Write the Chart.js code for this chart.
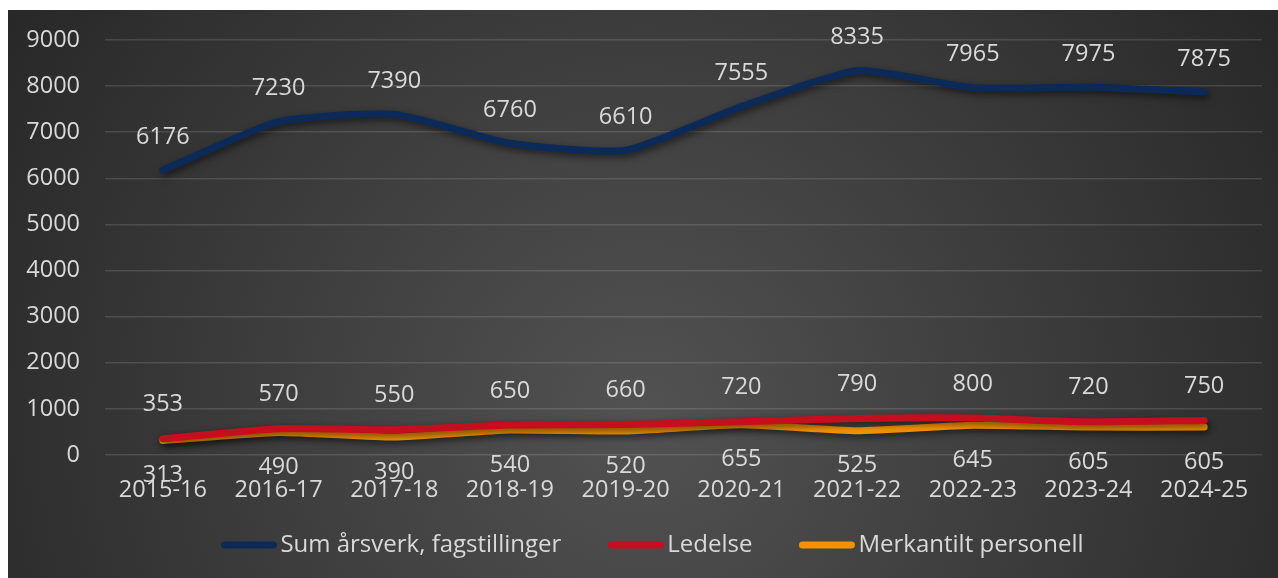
<!DOCTYPE html>
<html>
<head>
<meta charset="utf-8">
<script src="https://cdn.jsdelivr.net/npm/chart.js@4/dist/chart.umd.min.js"></script>
<style>
  html, body { margin: 0; padding: 0; background: #ffffff; width: 1278px; height: 578px; overflow: hidden; }
  #wrap { position: absolute; left: 8px; top: 10px; width: 1270px; height: 568px; }
</style>
</head>
<body>
<div id="wrap"><canvas id="c"></canvas></div>
<script>
const categories = ["2015-16","2016-17","2017-18","2018-19","2019-20","2020-21","2021-22","2022-23","2023-24","2024-25"];
const sumFag = [6176, 7230, 7390, 6760, 6610, 7555, 8335, 7965, 7975, 7875];
const ledelse = [353, 570, 550, 650, 660, 720, 790, 800, 720, 750];
const merkantilt = [313, 490, 390, 540, 520, 655, 525, 645, 605, 605];
const seriesNames = ["Sum årsverk, fagstillinger", "Ledelse", "Merkantilt personell"];
const yMin = 0, yMax = 9000, yStep = 1000;

const FONT = "'Open Sans', 'Noto Sans', sans-serif";
const TXT = "#d9d9d9";
const FS = 23.5;
const LFS = 24;

const bgPlugin = {
  id: 'bg',
  beforeDraw(chart) {
    const { ctx, width, height } = chart;
    ctx.save();
    const g = ctx.createRadialGradient(width * 0.5, height * 0.72, 0, width * 0.5, height * 0.72, width * 0.62);
    g.addColorStop(0, '#525252');
    g.addColorStop(1, '#262626');
    ctx.fillStyle = g;
    ctx.fillRect(0, 0, width, height);
    ctx.restore();
  }
};

const shadowPlugin = {
  id: 'shadow',
  beforeDatasetDraw(chart) {
    const ctx = chart.ctx;
    ctx.save();
    ctx.shadowColor = 'rgba(0,0,0,0.55)';
    ctx.shadowBlur = 7;
    ctx.shadowOffsetX = 2;
    ctx.shadowOffsetY = 3;
  },
  afterDatasetDraw(chart) {
    chart.ctx.restore();
  }
};

const labelOffsets = [-33, -34, 35];
const labelPlugin = {
  id: 'dlabels',
  afterDatasetsDraw(chart) {
    const ctx = chart.ctx;
    ctx.save();
    ctx.font = FS + "px " + FONT;
    ctx.fillStyle = TXT;
    ctx.textAlign = 'center';
    ctx.textBaseline = 'middle';
    chart.data.datasets.forEach((ds, i) => {
      const meta = chart.getDatasetMeta(i);
      meta.data.forEach((pt, j) => {
        ctx.fillText(String(ds.data[j]), pt.x, pt.y + labelOffsets[i]);
      });
    });
    ctx.restore();
  }
};

const legendPlugin = {
  id: 'customLegend',
  afterDraw(chart) {
    const ctx = chart.ctx;
    ctx.save();
    ctx.font = LFS + "px " + FONT;
    const sw = 57, gap = 3, spacing = 46;
    const ds = chart.data.datasets;
    const widths = ds.map(d => ctx.measureText(d.label).width);
    let total = 0;
    widths.forEach((w, i) => { total += sw + gap + w + (i < widths.length - 1 ? spacing : 0); });
    let x = 644 - total / 2;
    const y = 535;
    ds.forEach((d, i) => {
      ctx.strokeStyle = d.borderColor;
      ctx.lineWidth = 7;
      ctx.lineCap = 'round';
      ctx.beginPath();
      ctx.moveTo(x + 4, y);
      ctx.lineTo(x + sw - 4, y);
      ctx.stroke();
      ctx.fillStyle = TXT;
      ctx.textAlign = 'left';
      ctx.textBaseline = 'middle';
      ctx.fillText(d.label, x + sw + gap, y);
      x += sw + gap + widths[i] + spacing;
    });
    ctx.restore();
  }
};

const mk = (label, data, color) => ({
  label, data,
  borderColor: color,
  backgroundColor: color,
  borderWidth: 7,
  borderCapStyle: 'round',
  borderJoinStyle: 'round',
  pointRadius: 0,
  pointHoverRadius: 0,
  tension: 0.18,
  fill: false
});

new Chart(document.getElementById('c'), {
  type: 'line',
  data: {
    labels: categories,
    datasets: [
      mk(seriesNames[0], sumFag, '#0c2a58'),
      mk(seriesNames[1], ledelse, '#c50f1f'),
      mk(seriesNames[2], merkantilt, '#f39200')
    ]
  },
  plugins: [bgPlugin, shadowPlugin, labelPlugin, legendPlugin],
  options: {
    responsive: true,
    maintainAspectRatio: false,
    animation: false,
    events: [],
    layout: { padding: { left: 0, right: 16, top: 30, bottom: 0 }, autoPadding: false },
    plugins: { legend: { display: false }, tooltip: { enabled: false } },
    scales: {
      x: {
        offset: true,
        grid: { display: false, drawTicks: false },
        border: { display: false },
        ticks: { color: TXT, font: { family: FONT, size: FS }, padding: 21, maxRotation: 0, autoSkip: false },
        afterFit(s) { s.height = 123; s.paddingTop = 0; s.paddingBottom = 0; }
      },
      y: {
        min: yMin, max: yMax,
        grid: { color: 'rgba(255,255,255,0.13)', lineWidth: 1.5, drawTicks: false },
        border: { display: false },
        ticks: { stepSize: yStep, color: TXT, font: { family: FONT, size: FS }, padding: 25,
                 callback: v => String(v) },
        afterFit(s) { s.width = 97; s.paddingTop = 0; s.paddingBottom = 0; }
      }
    }
  }
});
</script>
</body>
</html>
